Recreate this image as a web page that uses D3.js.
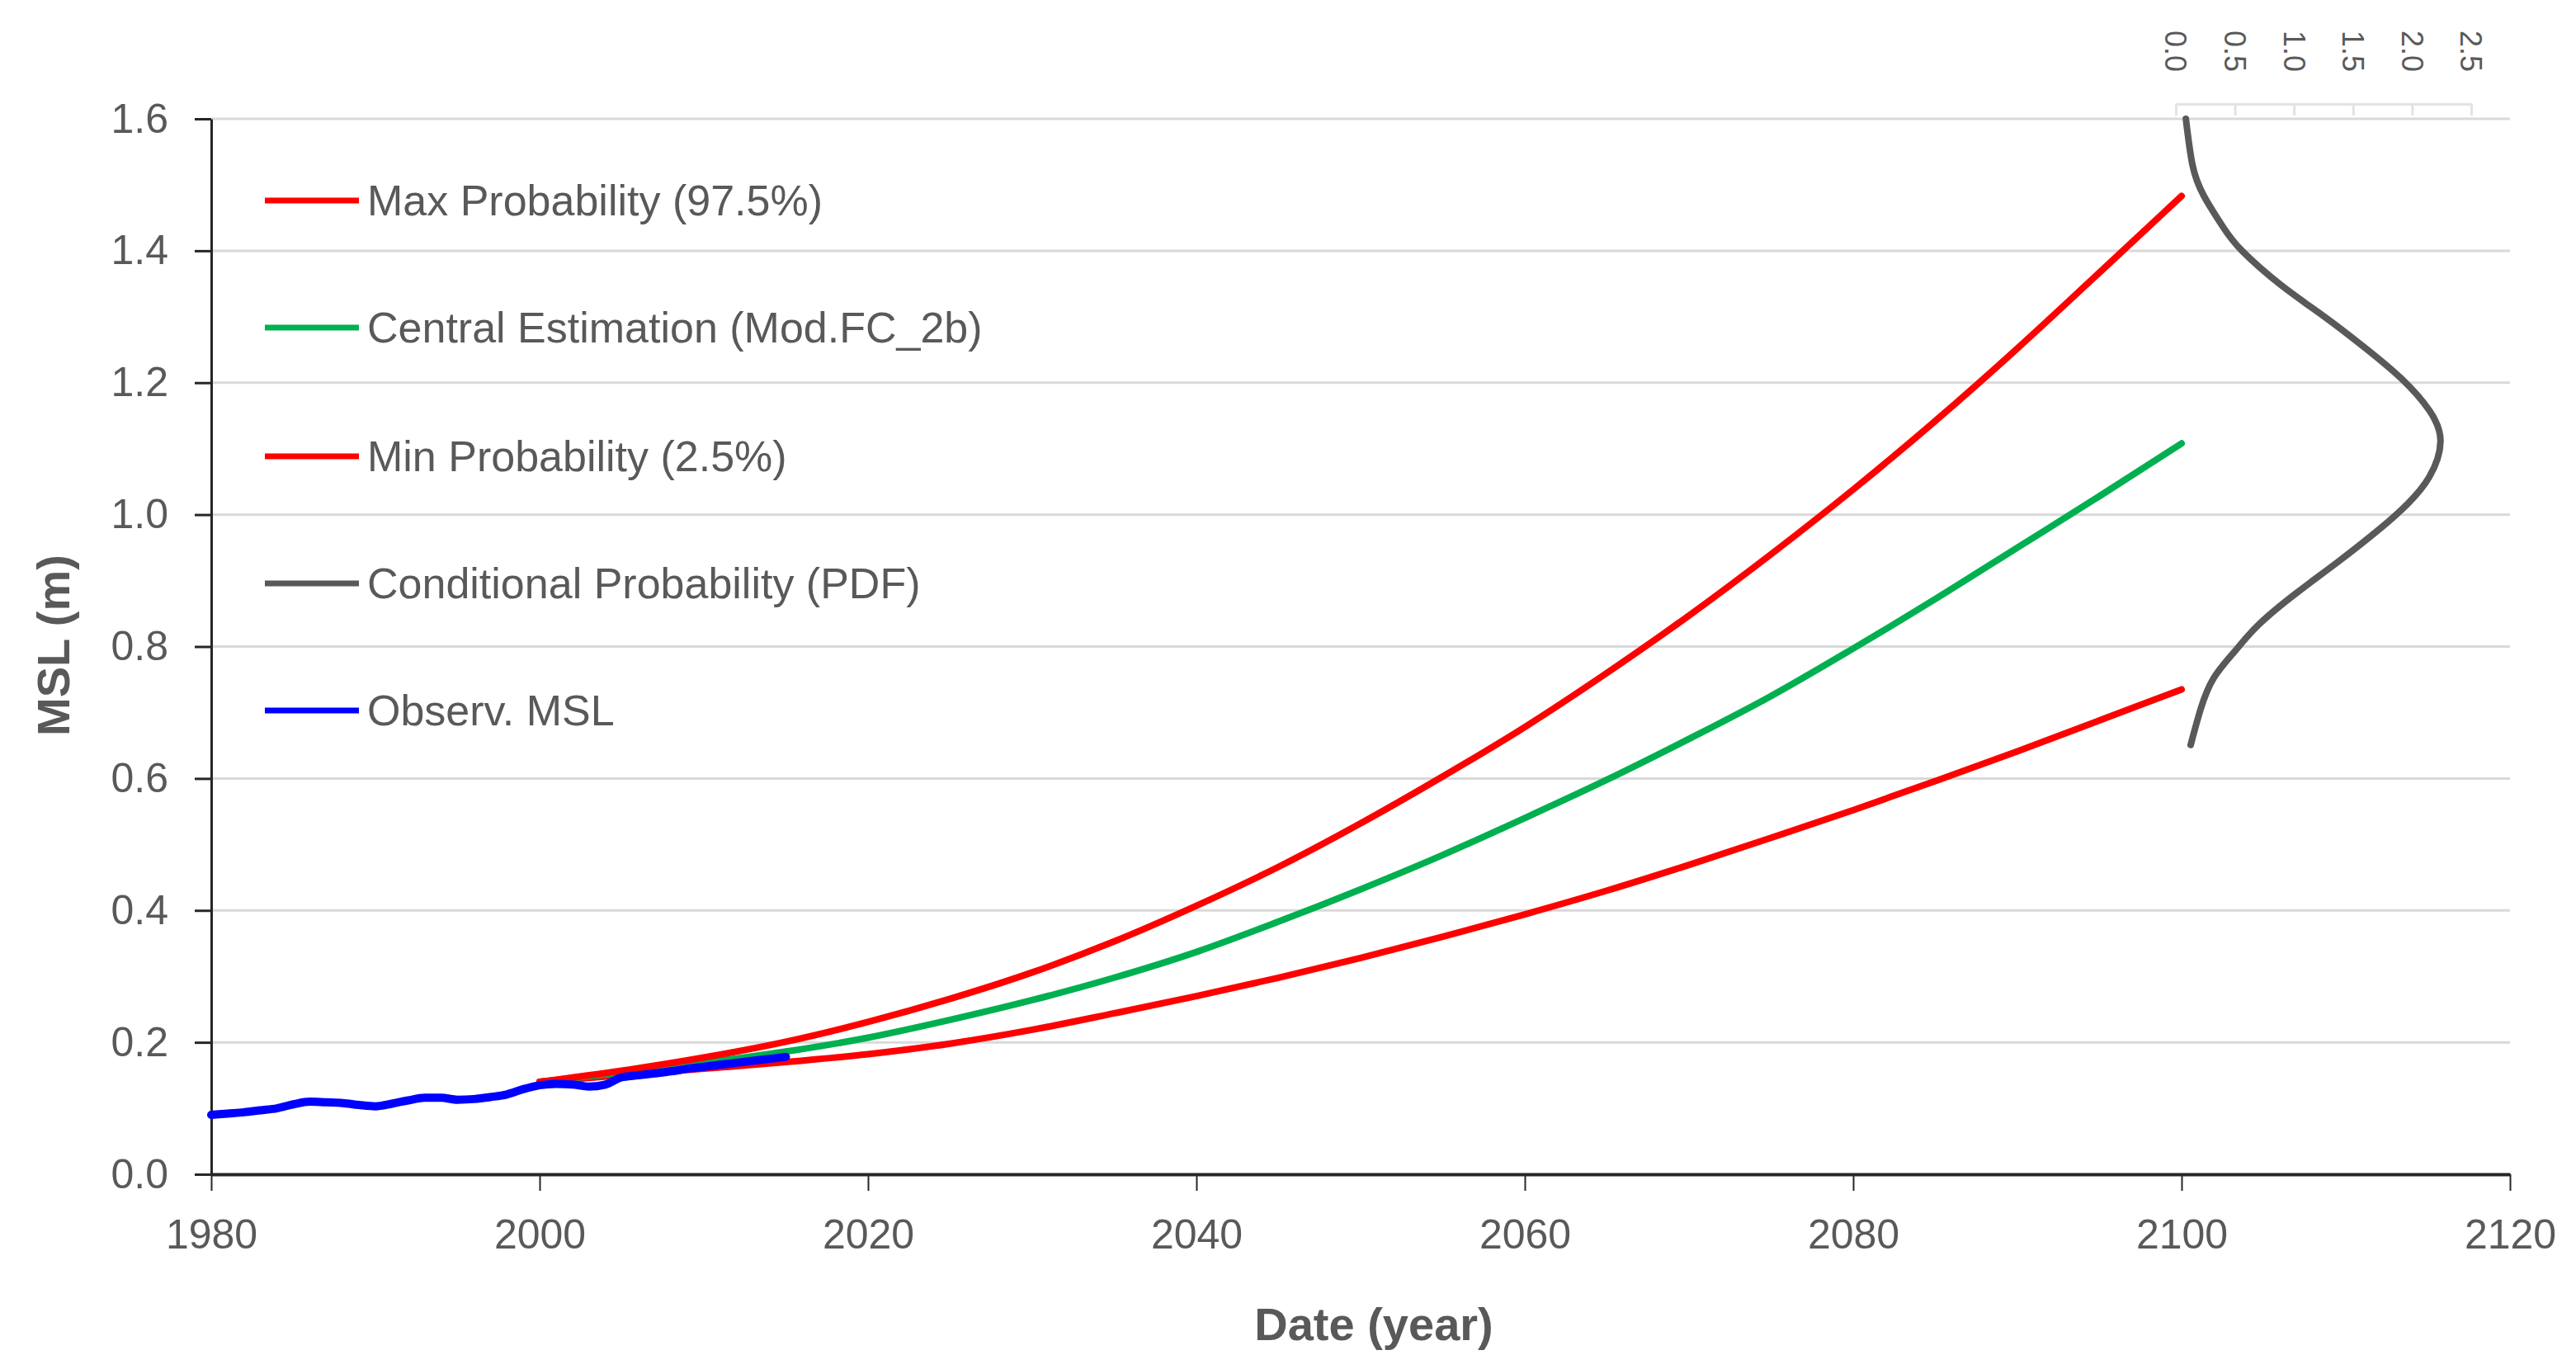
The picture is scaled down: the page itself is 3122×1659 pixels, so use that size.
<!DOCTYPE html>
<html>
<head>
<meta charset="utf-8">
<script src="https://cdn.jsdelivr.net/npm/d3@7"></script>
<style>
  body { margin: 0; background: #fff; }
  svg { display: block; font-family: "Liberation Sans", Arial, sans-serif; }
</style>
</head>
<body>
<svg id="chart" width="3122" height="1659"></svg>
<script>
// ---- data ----
var xTicks = [1980, 2000, 2020, 2040, 2060, 2080, 2100, 2120];
var yTicks = [0.0, 0.2, 0.4, 0.6, 0.8, 1.0, 1.2, 1.4, 1.6];
var pdfTicks = [0.0, 0.5, 1.0, 1.5, 2.0, 2.5];

var projYears = [2000, 2005, 2010, 2015, 2020, 2025, 2030, 2035, 2040, 2045, 2050,
                 2055, 2060, 2065, 2070, 2075, 2080, 2085, 2090, 2095, 2100];
var maxProb = [0.140, 0.157, 0.177, 0.201, 0.231, 0.266, 0.306, 0.353, 0.407, 0.466, 0.532,
               0.603, 0.678, 0.760, 0.847, 0.940, 1.038, 1.142, 1.252, 1.367, 1.483];
var central = [0.140, 0.154, 0.169, 0.186, 0.207, 0.234, 0.264, 0.298, 0.337, 0.383, 0.432,
               0.484, 0.540, 0.598, 0.660, 0.725, 0.797, 0.872, 0.950, 1.028, 1.108];
var minProb = [0.140, 0.150, 0.160, 0.170, 0.182, 0.198, 0.219, 0.244, 0.270, 0.298, 0.328,
               0.360, 0.394, 0.430, 0.469, 0.510, 0.552, 0.596, 0.641, 0.688, 0.735];

var obsYears = d3.range(1980, 2016);
var obsMsl = [0.090, 0.092, 0.094, 0.097, 0.100, 0.106, 0.110, 0.109, 0.108, 0.105,
              0.103, 0.107, 0.112, 0.116, 0.116, 0.113, 0.114, 0.117, 0.121, 0.129,
              0.135, 0.137, 0.136, 0.133, 0.136, 0.147, 0.150, 0.153, 0.156, 0.160,
              0.163, 0.166, 0.169, 0.172, 0.175, 0.178];

// conditional probability (PDF) of MSL in 2100, drawn against the top axis
var pdfMsl = [1.600, 1.531, 1.484, 1.436, 1.400, 1.348, 1.301, 1.253, 1.206, 1.158, 1.111,
              1.057, 1.016, 0.979, 0.928, 0.881, 0.833, 0.793, 0.752, 0.705, 0.651];
var pdfDensity = [0.085, 0.140, 0.235, 0.400, 0.560, 0.890, 1.250, 1.600, 1.910, 2.145, 2.240,
                  2.145, 1.960, 1.730, 1.370, 1.020, 0.700, 0.500, 0.320, 0.210, 0.126];

var legendNames = ["Max Probability (97.5%)", "Central Estimation (Mod.FC_2b)",
                   "Min Probability (2.5%)", "Conditional Probability (PDF)", "Observ. MSL"];
var legendColors = ["#ff0000", "#00b050", "#ff0000", "#595959", "#0000ff"];

// ---- chart ----
var svg = d3.select("#chart");
var textColor = "#595959";

var x = d3.scaleLinear().domain([1980, 2120]).range([256, 3042]);
var y = d3.scaleLinear().domain([0, 1.6]).range([1423, 144]);
var xPdf = d3.scaleLinear().domain([0, 2.5]).range([2637, 2995]);

// gridlines
svg.append("g").selectAll("line")
    .data(yTicks.filter(function(d) { return d > 0; }))
    .join("line")
    .attr("x1", x(1980)).attr("x2", x(2120))
    .attr("y1", function(d) { return y(d); })
    .attr("y2", function(d) { return y(d); })
    .attr("stroke", "#d9d9d9")
    .attr("stroke-width", 3);

// y axis
var yAxis = svg.append("g")
    .attr("transform", "translate(" + x(1980) + ",0)")
    .call(d3.axisLeft(y).tickValues(yTicks).tickFormat(d3.format(".1f"))
        .tickSize(20).tickSizeOuter(0).tickPadding(32));
yAxis.select(".domain").attr("stroke", "#262626").attr("stroke-width", 3);
yAxis.selectAll(".tick line").attr("stroke", "#262626").attr("stroke-width", 3);
yAxis.selectAll(".tick text")
    .attr("fill", textColor)
    .style("font-size", "50px");

// x axis
var xAxis = svg.append("g")
    .attr("transform", "translate(0," + y(0) + ")")
    .call(d3.axisBottom(x).tickValues(xTicks).tickFormat(d3.format("d"))
        .tickSize(20).tickSizeOuter(0).tickPadding(34));
xAxis.select(".domain").attr("stroke", "#262626").attr("stroke-width", 4);
xAxis.selectAll(".tick line").attr("stroke", "#262626").attr("stroke-width", 2);
xAxis.selectAll(".tick text")
    .attr("fill", textColor)
    .style("font-size", "50px");

// secondary (density) axis at the top right
var pdfAxis = svg.append("g")
    .attr("transform", "translate(0,126)")
    .call(d3.axisTop(xPdf).tickValues(pdfTicks).tickSizeInner(-14).tickSizeOuter(0)
        .tickFormat(""));
pdfAxis.select(".domain").attr("stroke", "#e3e3e3").attr("stroke-width", 3);
pdfAxis.selectAll(".tick line").attr("stroke", "#e3e3e3").attr("stroke-width", 3);

svg.append("g").selectAll("text")
    .data(pdfTicks)
    .join("text")
    .attr("transform", function(d) { return "translate(" + xPdf(d) + ",87) rotate(90)"; })
    .attr("text-anchor", "end")
    .attr("dy", "0.35em")
    .attr("fill", textColor)
    .style("font-size", "36px")
    .text(d3.format(".1f"));

// axis titles
svg.append("text")
    .attr("x", 1665).attr("y", 1624)
    .attr("text-anchor", "middle")
    .attr("fill", textColor)
    .style("font-size", "56px").style("font-weight", "bold")
    .text("Date (year)");

svg.append("text")
    .attr("transform", "translate(84,782) rotate(-90)")
    .attr("text-anchor", "middle")
    .attr("fill", textColor)
    .style("font-size", "56px").style("font-weight", "bold")
    .text("MSL (m)");

// series
var projLine = d3.line()
    .x(function(d, i) { return x(projYears[i]); })
    .y(function(d) { return y(d); })
    .curve(d3.curveMonotoneX);

var obsLine = d3.line()
    .x(function(d, i) { return x(obsYears[i]); })
    .y(function(d) { return y(d); })
    .curve(d3.curveMonotoneX);

var pdfLine = d3.line()
    .x(function(d, i) { return xPdf(pdfDensity[i]); })
    .y(function(d) { return y(d); })
    .curve(d3.curveNatural);

var series = [
    {data: minProb, line: projLine, color: "#ff0000", width: 8},
    {data: central, line: projLine, color: "#00b050", width: 8},
    {data: maxProb, line: projLine, color: "#ff0000", width: 8},
    {data: pdfMsl, line: pdfLine, color: "#595959", width: 8},
    {data: obsMsl, line: obsLine, color: "#0000ff", width: 10}
];

svg.append("g").selectAll("path")
    .data(series)
    .join("path")
    .attr("d", function(s) { return s.line(s.data); })
    .attr("fill", "none")
    .attr("stroke", function(s) { return s.color; })
    .attr("stroke-width", function(s) { return s.width; })
    .attr("stroke-linecap", "round")
    .attr("stroke-linejoin", "round");

// legend
var legendY = [243, 397, 553, 707, 861];
var legend = svg.append("g").selectAll("g")
    .data(legendNames)
    .join("g")
    .attr("transform", function(d, i) { return "translate(0," + legendY[i] + ")"; });

legend.append("line")
    .attr("x1", 321).attr("x2", 435)
    .attr("stroke", function(d, i) { return legendColors[i]; })
    .attr("stroke-width", 7);

legend.append("text")
    .attr("x", 445)
    .attr("dy", "0.35em")
    .attr("fill", textColor)
    .style("font-size", "52px")
    .text(function(d) { return d; });
</script>
</body>
</html>
